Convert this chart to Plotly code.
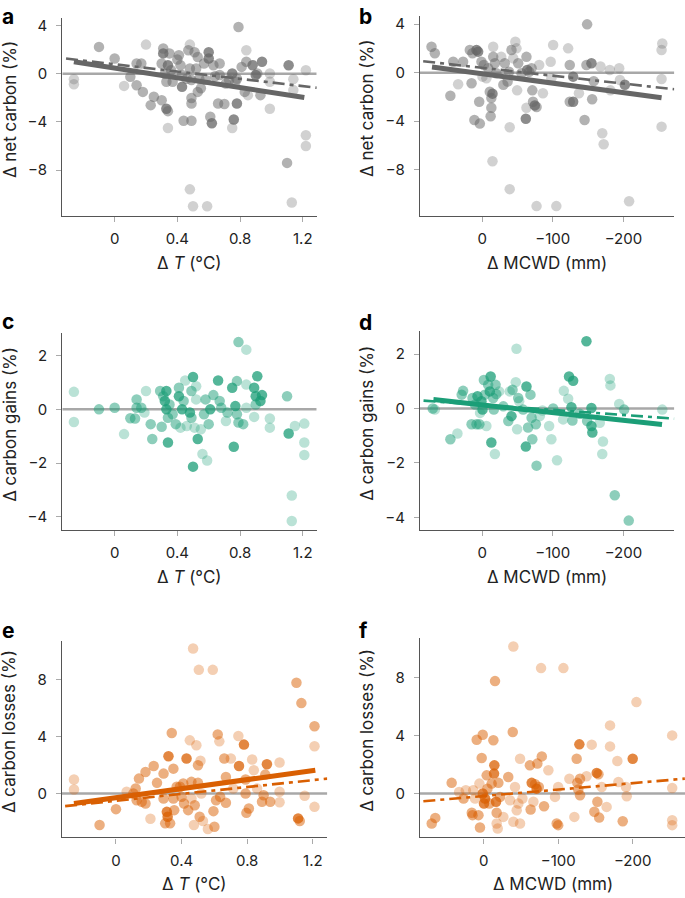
import plotly.graph_objects as go

W, H = 685, 898
GRAY, GREEN, ORANGE = "#666666", "#1b9e77", "#d95f02"
L, M, D = 0.3, 0.5, 0.75

# ---------------- panel a : ΔT vs Δ net carbon ----------------
a_x = [-0.26, -0.26, -0.10, 0.00, 0.06, 0.10, 0.14, 0.14, 0.17, 0.18, 0.20, 0.23, 0.25, 0.30, 0.30,
       0.31, 0.31, 0.33, 0.34, 0.34, 0.33, 0.34, 0.35, 0.37, 0.41, 0.42, 0.43, 0.43, 0.44, 0.47,
       0.48, 0.48, 0.49, 0.49, 0.49, 0.49, 0.48, 0.50, 0.51, 0.52, 0.53, 0.53, 0.54, 0.57, 0.59,
       0.60, 0.60, 0.61, 0.62, 0.63, 0.66, 0.67, 0.67, 0.70, 0.71, 0.75, 0.76, 0.75, 0.77, 0.78,
       0.79, 0.78, 0.81, 0.83, 0.84, 0.84, 0.85, 0.88, 0.90, 0.91, 0.93, 0.94, 0.99, 0.99, 0.99,
       1.10, 1.11, 1.13, 1.14, 1.14, 1.22, 1.22, 1.22, 0.32, 0.36, 0.40, 0.46, 0.55, 0.58, 0.64, 0.73]
a_y = [-0.44, -0.86, 2.24, 1.27, -1.00, -0.25, 0.86, -0.94, 0.86, -1.50, 2.43, -2.60, -1.90, -2.20, 0.86,
       2.10, 1.70, -2.90, -3.10, -4.50, -0.66, 0.72, 1.70, -0.66, 1.55, 0.72, -1.08, -0.10, -3.90, 1.96,
       2.43, 0.44, -0.52, -3.90, -2.00, -2.46, -9.60, -11.0, 1.80, 0.44, -1.50, 1.40, -0.40, 0.86, -11.0,
       1.80, 1.27, -3.56, -4.10, 0.72, -2.46, 0.86, -0.10, -2.50, -0.80, 0.03, -3.80, -4.50, -0.66, -2.46,
       3.90, -0.40, 0.58, -1.50, 1.96, 1.00, -1.77, 0.72, -0.10, 0.03, -1.77, 1.00, 0.03, -2.90, -0.66,
       -7.40, 0.72, -10.7, -1.35, -0.44, 0.30, -5.10, -6.00, 0.00, 0.30, 1.20, -0.40, -1.20, -0.50, -0.20, -0.50]
a_op = [L, L, M, M, L, M, M, M, M, M, L, M, M, M, M,
        M, D, D, M, L, M, D, M, M, M, M, D, M, M, M,
        L, M, M, M, M, M, L, L, M, M, M, M, M, M, L,
        D, D, M, D, M, M, M, M, M, M, D, D, L, M, D,
        M, M, M, M, L, M, L, D, D, M, M, D, L, L, L,
        M, D, L, L, L, L, L, L, M, M, M, M, M, M, M, M]
a_fit_x, a_fit_y = [-0.26, 1.21], [1.00, -1.97]
a_dash_x, a_dash_y = [-0.31, 1.29], [1.27, -1.16]

# ---------------- panel b : ΔMCWD vs Δ net carbon ----------------
b_x = [71.7, 67, 41, 45, 34, 27, 17.5, 15, 13.7, 11, 8, 5.7, 4.2, 3.3, 1, -0.5, -2.4, -6, -8.5, -10.8,
       -13, -13, -12, -14.6, -15.6, -15.6, -18, -14.6, -20, -27, -30, -32, -36, -38, -39, -39, -41.5,
       -44, -47, -48.6, -49.5, -51, -55.7, -62.7, -63.7, -61.8, -62.7, -66.5, -70, -71, -72, -74.5, -77,
       -77, -80.7, -86, -100.5, -97, -105, -98, -121.7, -124, -124, -128.8, -128.8, -137, -145, -148.6,
       -147.6, -154.7, -155.7, -158, -167.5, -170, -172, -180.7, -181.6, -194, -195, -202, -208, -255,
       -254, -254, -254]
b_y = [2.14, 1.60, 0.90, -1.90, -0.96, 0.90, 1.87, -0.88, 1.60, -3.90, 1.87, 1.73, -2.40, -4.20, 0.90,
       -0.33, 0.63, -0.47, 0.36, -1.57, -2.10, -2.90, -3.60, -7.30, 2.14, 1.30, 0.77, -1.73, -0.05, 1.30,
       -1.00, 0.77, -0.74, 0.08, -4.50, -9.60, 1.87, 1.18, 2.55, 2.00, -1.46, 0.77, -0.05, 1.30, 0.22,
       -3.80, -2.90, 0.08, 0.36, -1.46, -2.40, -2.70, -2.83, -11.0, 0.63, -1.70, 2.28, 0.90, -11.0, -0.47,
       2.00, 0.63, -2.40, -2.40, -0.33, -1.70, -3.90, 3.98, 0.63, 0.77, -2.20, -0.70, 0.50, -5.00, -5.90,
       0.22, -1.46, 0.36, -0.60, -1.00, -10.6, 2.40, 1.87, -0.52, -4.45]
b_op = [M, M, M, M, L, M, M, M, M, M, D, D, M, M, M, L, M, L, M, M,
        M, M, M, L, L, M, M, D, M, L, M, M, M, M, L, L, M,
        L, L, L, L, M, M, M, D, D, L, M, M, M, M, D, M,
        L, L, L, L, L, L, L, L, M, M, D, D, L, M, M,
        M, D, M, M, L, L, L, L, L, L, L, D, L, L,
        L, L, L]
b_fit_x, b_fit_y = [71, -254], [0.47, -2.07]
b_dash_x, b_dash_y = [83.5, -272], [0.94, -1.37]

# ---------------- panel c : ΔT vs Δ carbon gains ----------------
c_x = [-0.26, -0.26, -0.10, 0.00, 0.06, 0.10, 0.13, 0.14, 0.14, 0.17, 0.19, 0.20, 0.23, 0.24, 0.29,
       0.30, 0.31, 0.32, 0.33, 0.33, 0.34, 0.34, 0.35, 0.37, 0.39, 0.41, 0.41, 0.42, 0.43, 0.44,
       0.45, 0.46, 0.48, 0.49, 0.50, 0.50, 0.49, 0.51, 0.52, 0.52, 0.53, 0.55, 0.56, 0.57, 0.58,
       0.59, 0.60, 0.61, 0.63, 0.66, 0.67, 0.68, 0.71, 0.72, 0.75, 0.76, 0.77, 0.78, 0.78, 0.79,
       0.79, 0.82, 0.84, 0.84, 0.84, 0.89, 0.89, 0.90, 0.91, 0.93, 0.94, 0.90, 0.99, 0.99, 1.10,
       1.11, 1.13, 1.13, 1.15, 1.21, 1.21, 1.21]
c_y = [0.65, -0.47, 0.00, 0.06, -0.92, -0.33, -0.34, 0.37, 0.06, 0.06, -0.12, 0.68, -0.55, -1.10, 0.68,
       -0.65, 0.49, 0.31, 0.00, 0.68, -1.23, -0.31, 0.18, -0.18, -0.55, 0.80, 0.49, -0.68, 0.00, 0.31,
       1.07, -0.62, -0.12, 0.68, 1.20, -2.13, -0.31, -0.68, 0.37, 0.86, -1.10, -0.74, -1.66, -0.18, 0.37,
       -1.90, -0.55, 0.00, 0.53, 1.07, 0.31, 0.06, -0.43, -0.12, 0.80, -1.39, 0.12, -0.18, 1.05, 2.50,
       -0.49, -0.55, 2.22, 0.92, 0.06, -0.28, 0.80, 0.49, 1.23, 0.31, 0.53, 0.18, -0.34, -0.68, 0.49,
       -0.90, -3.20, -4.15, -0.62, -0.53, -1.23, -1.70]
c_op = [L, L, M, M, L, M, M, M, M, M, L, L, M, M, M,
        M, M, D, D, D, D, M, M, M, M, M, D, L, D, M,
        L, L, D, M, D, D, M, L, L, L, D, L, L, M, M,
        L, M, D, M, D, M, M, L, M, D, D, D, M, M, M,
        M, M, L, L, L, L, D, D, D, D, D, M, L, L, M,
        D, L, L, L, L, L, L]

# ---------------- panel d : ΔMCWD vs Δ carbon gains ----------------
d_x = [70, 67, 45, 35, 27, 29, 15, 13.7, 10, 8, 6.6, 4, 3, 1, -0.5, -2.4, -3.8, -6, -8.5, -10.8,
       -12, -13, -15.6, -16.5, -18, -19, -20, -24, -30, -37, -39, -41.5, -43, -47.6, -48.6, -49.5,
       -51, -52.4, -58, -61.8, -62.7, -65, -68.4, -70, -71, -76, -77, -81.6, -85.4, -94.8, -98,
       -100.5, -106, -114.6, -115.6, -121.7, -123, -126.4, -128.8, -127.8, -138, -147.6, -148.6,
       -154.7, -154.7, -156, -166.5, -171, -170, -180.7, -181.6, -187.7, -194, -201, -207.5, -255]
d_y = [0.00, -0.04, -1.13, -0.92, 0.65, 0.51, -0.58, 0.39, 0.15, -0.58, 0.45, -0.58, -0.16, 0.27, -0.04,
       1.05, 0.51, -0.64, 0.87, 0.63, 1.18, -1.25, 0.39, -0.04, -1.67, 0.87, 0.53, 0.63, 0.08, -0.46,
       0.63, -0.28, 0.69, 0.97, 2.20, -0.76, 0.39, 0.27, -0.04, -1.40, 0.81, -0.70, 0.51, -0.34, -1.13,
       -0.58, -2.10, -0.28, -0.07, -0.64, -1.13, 0.00, -1.90, -0.40, 0.65, 0.36, 1.18, 0.05, 1.02, -0.44,
       -0.19, 2.47, -0.46, 0.02, -0.64, -0.88, -0.52, -1.21, -1.67, 1.09, 0.85, -3.19, 0.17, -0.04, -4.12,
       -0.04]
d_op = [M, L, M, L, M, M, M, M, M, M, D, M, L, D, D, M, M, L, M, D,
        D, D, M, M, L, M, M, L, M, M, L, D, M, L, L, L,
        M, L, M, D, D, M, M, M, M, M, M, L, L, L, L,
        M, L, L, L, L, D, D, D, M, M, D, M,
        D, D, D, L, L, L, L, L, M, L, M, M, L]
d_fit_x, d_fit_y = [69, -254.6], [0.33, -0.59]
d_dash_x, d_dash_y = [83, -272], [0.29, -0.37]

# ---------------- panel e : ΔT vs Δ carbon losses ----------------
e_x = [-0.256, -0.256, -0.10, 0.00, 0.065, 0.106, 0.12, 0.14, 0.126, 0.157, 0.18, 0.18, 0.21, 0.23,
       0.25, 0.29, 0.29, 0.30, 0.31, 0.315, 0.32, 0.33, 0.34, 0.35, 0.35, 0.355, 0.37, 0.39, 0.40,
       0.41, 0.415, 0.43, 0.44, 0.45, 0.46, 0.46, 0.47, 0.475, 0.48, 0.49, 0.50, 0.50, 0.505, 0.51,
       0.515, 0.52, 0.53, 0.56, 0.59, 0.594, 0.60, 0.61, 0.62, 0.63, 0.635, 0.66, 0.67, 0.67, 0.70,
       0.715, 0.746, 0.75, 0.78, 0.79, 0.795, 0.79, 0.81, 0.83, 0.84, 0.86, 0.89, 0.90, 0.91, 0.92,
       0.94, 0.997, 0.997, 0.997, 1.10, 1.11, 1.12, 1.13, 1.15, 1.21, 1.21, 1.21]
e_y = [0.98, 0.28, -2.22, -1.10, 0.12, 0.00, 0.35, 1.05, -0.47, -0.58, 1.52, -0.70, -1.78, 1.94,
       0.75, 1.40, -0.35, -2.10, -1.29, -1.64, 2.62, -2.10, 4.26, 1.75, -0.35, -1.17, 0.47, 0.47, -0.23,
       0.70, -0.70, 2.46, -1.17, 3.74, 0.82, -0.35, 10.2, -2.22, -0.82, 3.40, 1.99, 0.75, 8.70, -1.64,
       2.30, 0.00, -1.94, -2.50, 8.70, -1.24, -2.34, -0.47, 4.16, 3.67, -0.23, 2.46, 1.17, -0.65, 2.46,
       0.35, 4.05, 1.94, 3.44, 0.98, -1.36, 0.00, -1.05, 2.39, 1.64, 0.35, -0.58, -0.12, 1.33, 2.06,
       -0.58, 2.18, 0.12, -0.61, 7.79, -1.75, -1.94, 6.36, -0.16, 4.73, 3.32, -0.94]
e_op = [L, L, M, M, L, M, M, M, M, M, M, M, L, M,
        M, M, M, M, D, D, D, M, M, M, M, M, M, M, M,
        M, M, D, M, L, M, L, L, L, M, L, M, M, L, M,
        L, L, L, L, L, M, M, M, M, L, M, M, M, M, L,
        L, L, D, D, M, M, M, M, L, L, L, M, M, M, D,
        M, L, L, L, M, D, M, M, L, M, L, L]
e_fit_x, e_fit_y = [-0.256, 1.215], [-0.70, 1.64]
e_dash_x, e_dash_y = [-0.31, 1.288], [-0.89, 1.05]

# ---------------- panel f : ΔMCWD vs Δ carbon losses ----------------
f_x = [69.8, 65, 43, 33, 27, 24, 16, 15, 14, 11.6, 9.4, 7, 5.8, 5, 2.7, 1.3, 1.3, -0.4, -1.8, -4,
       -5, -7.6, -10.7, -13, -13.9, -14.3, -15.2, -16.6, -17.4, -17.4, -18.8, -19.7, -22, -26.4, -33,
       -35.3, -39, -39.8, -39.8, -42, -44.3, -46.5, -48.8, -48.8, -52, -62, -63, -64.4, -66.7, -69,
       -71, -72, -74, -77, -78, -81, -86.8, -95.7, -98, -100, -100, -107, -115, -121.7, -124.8,
       -125.7, -127, -128.4, -129.3, -129.3, -138, -145, -148.5, -151.7, -152.6, -154, -155, -158.4,
       -165, -169.6, -169.6, -179.4, -180.8, -186.6, -191, -192, -200, -205, -253, -253, -253, -253]
f_y = [-2.07, -1.68, 0.74, 0.11, -0.34, 0.23, -1.33, -1.49, 0.23, -0.34, 3.72, -1.49, 0.69, -2.34, 2.46,
       4.07, 0.00, -0.69, -0.34, 1.26, 0.34, -0.69, 0.69, 3.68, 1.38, 1.95, 7.77, -0.57, -1.33, -2.07,
       -2.41, 0.74, -0.23, -1.61, 1.15, -0.46, 4.25, 10.16, -1.95, 0.46, -1.15, -0.69, 2.41, -2.07, -0.34,
       1.95, -1.10, 0.74, -0.57, 0.64, 0.34, 2.07, 0.46, 8.67, 2.57, -0.87, 1.61, -0.23, -2.07, -2.18,
       0.46, 8.67, 1.03, -1.61, 2.41, 0.74, 0.28, 3.40, 1.03, -0.11, 1.20, 3.38, -1.26, 1.43, -0.57,
       1.33, -1.66, 0.46, -0.92, 4.71, 3.26, 2.25, 0.80, -1.91, 0.46, -0.18, 2.41, 6.32, 4.02, 0.39,
       -1.84, -2.18]
f_op = [M, M, M, L, M, L, M, M, L, L, M, M, L, M, M, M, D, D, D, M,
        M, M, M, M, D, D, M, D, M, L, L, M, M, L, M,
        L, M, L, L, L, L, L, L, L, L, M, M, D, L, M,
        D, M, M, L, M, M, L, L, M, M, L, L, L, L, M,
        M, M, D, M, M, L, L, M, D, M, M, M, L,
        L, L, L, L, L, M, L, L, D, L, L, L, L, L]
f_dash_x, f_dash_y = [81, -270], [-0.53, 1.03]

# tick labels
t_ticks = [0, 0.4, 0.8, 1.2]
t_ticktext = ["0", "0.4", "0.8", "1.2"]
m_ticks = [0, -100, -200]
m_ticktext = ["0", "−100", "−200"]

# ---------------- layout geometry (pixels) ----------------
panels = {
    # name: (xpx0, xpx1, ypx_top, ypx_bottom, xrange, yrange, yticks)
    "a": (62.3, 316.7, 15.7, 214.3, [-0.334, 1.289], [-11.8, 4.67], [-8, -4, 0, 4]),
    "b": (420.0, 674.3, 14.0, 214.3, [88, -272], [-11.8, 4.67], [-8, -4, 0, 4]),
    "c": (62.3, 316.7, 331.7, 529.3, [-0.334, 1.289], [-4.49, 2.84], [-4, -2, 0, 2]),
    "d": (420.0, 674.3, 330.0, 529.3, [88, -272], [-4.47, 2.84], [-4, -2, 0, 2]),
    "e": (62.0, 327.3, 640.0, 837.3, [-0.329, 1.288], [-3.09, 10.76], [0, 4, 8]),
    "f": (420.0, 685.0, 637.7, 837.3, [85.5, -270.2], [-3.03, 10.73], [0, 4, 8]),
}
colors = {"a": GRAY, "b": GRAY, "c": GREEN, "d": GREEN, "e": ORANGE, "f": ORANGE}
data = {"a": (a_x, a_y, a_op), "b": (b_x, b_y, b_op), "c": (c_x, c_y, c_op),
        "d": (d_x, d_y, d_op), "e": (e_x, e_y, e_op), "f": (f_x, f_y, f_op)}
fits = {"a": (a_fit_x, a_fit_y), "b": (b_fit_x, b_fit_y), "d": (d_fit_x, d_fit_y),
        "e": (e_fit_x, e_fit_y)}
dashes = {"a": (a_dash_x, a_dash_y), "b": (b_dash_x, b_dash_y), "d": (d_dash_x, d_dash_y),
          "e": (e_dash_x, e_dash_y), "f": (f_dash_x, f_dash_y)}
ylabels = {"a": "Δ net carbon (%)", "b": "Δ net carbon (%)", "c": "Δ carbon gains (%)",
           "d": "Δ carbon gains (%)", "e": "Δ carbon losses (%)", "f": "Δ carbon losses (%)"}
xlabels = {"a": "Δ <i>T</i> (°C)", "b": "Δ MCWD (mm)", "c": "Δ <i>T</i> (°C)",
           "d": "Δ MCWD (mm)", "e": "Δ <i>T</i> (°C)", "f": "Δ MCWD (mm)"}

FONT = "Inter, Noto Sans, sans-serif"
fig = go.Figure()
layout = dict(width=W, height=H, margin=dict(l=0, r=0, t=0, b=0),
              paper_bgcolor="white", plot_bgcolor="white", showlegend=False,
              font=dict(family=FONT, size=15, color="#222222"))
annotations = []

def px(v):
    return v / W

def py(v):
    return 1 - v / H

for i, key in enumerate(["a", "b", "c", "d", "e", "f"]):
    x0, x1, yt, yb, xr, yr, yt_vals = panels[key]
    n = "" if i == 0 else str(i + 1)
    xa, ya = "x" + n, "y" + n
    is_t = key in ("a", "c", "e")
    layout["xaxis" + n] = dict(
        domain=[px(x0), px(x1)], range=xr, anchor=ya,
        showgrid=False, zeroline=False, showline=True, linecolor="#555555", linewidth=1.3,
        ticks="outside", ticklen=5, tickwidth=1, tickcolor="#aaaaaa",
        tickvals=t_ticks if is_t else m_ticks, ticktext=t_ticktext if is_t else m_ticktext,
        tickfont=dict(size=15, color="#222222"), ticklabelstandoff=4)
    layout["yaxis" + n] = dict(
        domain=[py(yb), py(yt)], range=yr, anchor=xa,
        showgrid=False, zeroline=False, showline=True, linecolor="#555555", linewidth=1.3,
        ticks="outside", ticklen=5, tickwidth=1, tickcolor="#aaaaaa",
        tickvals=yt_vals, tickfont=dict(size=15, color="#222222"), ticklabelstandoff=6)
    col = colors[key]
    # zero reference line
    fig.add_trace(go.Scatter(x=[xr[0], xr[1]], y=[0, 0], mode="lines", xaxis=xa, yaxis=ya,
                             line=dict(color="#a8a8a8", width=2.5), hoverinfo="skip"))
    xs, ys, ops = data[key]
    fig.add_trace(go.Scatter(x=xs, y=ys, mode="markers", xaxis=xa, yaxis=ya,
                             marker=dict(size=10.5, color=col, opacity=ops, line=dict(width=0))))
    if key in dashes:
        dx, dy = dashes[key]
        fig.add_trace(go.Scatter(x=dx, y=dy, mode="lines", xaxis=xa, yaxis=ya,
                                 line=dict(color=col, width=2.6, dash="12px,5px,4px,5px")))
    if key in fits:
        fx, fy = fits[key]
        fig.add_trace(go.Scatter(x=fx, y=fy, mode="lines", xaxis=xa, yaxis=ya,
                                 line=dict(color=col, width=5)))
    # axis titles
    annotations.append(dict(text=xlabels[key], x=px((x0 + x1) / 2), y=py(yb + 47),
                            xref="paper", yref="paper", xanchor="center", yanchor="middle",
                            showarrow=False, font=dict(size=17, color="#222222")))
    annotations.append(dict(text=ylabels[key], x=px(x0 - 53), y=py((yt + yb) / 2 - 7),
                            xref="paper", yref="paper", xanchor="center", yanchor="middle",
                            textangle=-90, showarrow=False, font=dict(size=17, color="#222222")))

# panel letters
letters = {"a": (0, 15), "b": (357, 15), "c": (0, 320), "d": (357, 321), "e": (0, 630), "f": (357, 630)}
for k, (lx, ly) in letters.items():
    annotations.append(dict(text="<b>%s</b>" % k, x=px(lx), y=py(ly), xref="paper", yref="paper",
                            xanchor="left", yanchor="middle", showarrow=False,
                            font=dict(size=21, color="#000000", family="Inter, Noto Sans, sans-serif")))

layout["annotations"] = annotations
fig.update_layout(**layout)
fig.write_html("out.html", config={"displayModeBar": False},
               post_script="document.body.style.margin='0';document.body.style.overflow='hidden';")
